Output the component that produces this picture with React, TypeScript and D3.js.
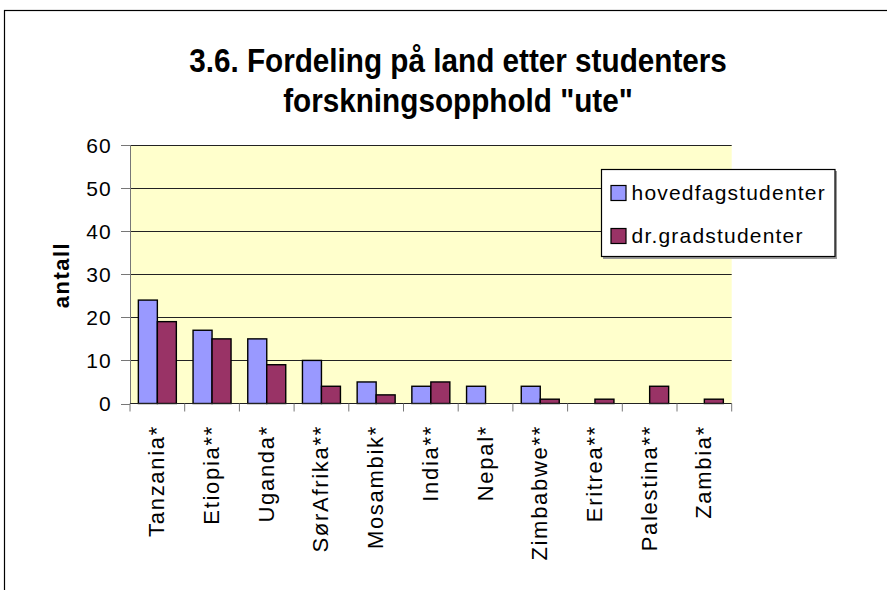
import React from 'react';
import * as d3 from 'd3';

const categories = ['Tanzania*', 'Etiopia**', 'Uganda*', 'SørAfrika**', 'Mosambik*', 'India**', 'Nepal*', 'Zimbabwe**', 'Eritrea**', 'Palestina**', 'Zambia*'];
const hovedfag = [24, 17, 15, 10, 5, 4, 4, 4, 0, 0, 0];
const drgrad = [19, 15, 9, 4, 2, 5, 0, 1, 1, 4, 1];
const seriesNames = ['hovedfagstudenter', 'dr.gradstudenter'];
const seriesColors = ['#9999FF', '#993366'];
const yTicks = [0, 10, 20, 30, 40, 50, 60];
const titleLines = ['3.6. Fordeling på land etter studenters', 'forskningsopphold "ute"'];
const yLabel = 'antall';

const W = 887;
const H = 590;
const plot = { left: 130, right: 731.7, top: 145, bottom: 403.5 };
const font = '"Liberation Sans", Arial, sans-serif';

export default function App() {
  const x = d3.scaleBand<string>().domain(categories).range([plot.left, plot.right]).paddingInner(0).paddingOuter(0);
  const inner = d3.scaleBand<number>().domain([0, 1]).range([0, x.bandwidth()]).paddingInner(0).paddingOuter(0.44);
  const y = d3.scaleLinear().domain([0, 60]).range([plot.bottom, plot.top]);
  const series = [hovedfag, drgrad];

  const boundaries = categories.map((c) => x(c)!).concat([plot.right]);

  return (
    <svg width={W} height={H} style={{ position: 'absolute', left: 0, top: 0, background: '#fff' }} fontFamily={font}>
      <rect x={4.5} y={10.5} width={1000} height={1000} fill="#fff" stroke="#000" strokeWidth={1.2} />
      {titleLines.map((t, i) => (
        <text key={t} transform={`translate(458,${72 + i * 40}) scale(0.9,1)`} textAnchor="middle" fontSize={33} fontWeight="bold">
          {t}
        </text>
      ))}
      <rect x={plot.left} y={plot.top} width={plot.right - plot.left} height={plot.bottom - plot.top} fill="#FFFFCC" />
      {yTicks.map((t) => (
        <g key={t}>
          {t > 0 && <line x1={plot.left} x2={plot.right} y1={Math.round(y(t)) + 0.5} y2={Math.round(y(t)) + 0.5} stroke="#222" strokeWidth={1} />}
          <line x1={121} x2={plot.left} y1={Math.round(y(t)) + 0.5} y2={Math.round(y(t)) + 0.5} stroke="#777" strokeWidth={1} />
          <text x={112} y={y(t) + 7.5} textAnchor="end" fontSize={21} letterSpacing={1.2} fill="#000">{t}</text>
        </g>
      ))}
      {categories.map((c, i) =>
        series.map((s, j) =>
          s[i] > 0 ? (
            <rect
              key={c + j}
              x={x(c)! + inner(j)!}
              y={y(s[i])}
              width={inner.bandwidth()}
              height={plot.bottom - y(s[i])}
              fill={seriesColors[j]}
              stroke="#000"
              strokeWidth={1.4}
            />
          ) : null
        )
      )}
      <line x1={plot.left + 0.5} x2={plot.left + 0.5} y1={plot.top} y2={plot.bottom} stroke="#777" strokeWidth={1} />
      <line x1={plot.left} x2={plot.right} y1={plot.bottom} y2={plot.bottom} stroke="#222" strokeWidth={1} />
      {boundaries.map((b, i) => (
        <line key={i} x1={b} x2={b} y1={plot.bottom} y2={411.5} stroke="#777" strokeWidth={1} />
      ))}
      {categories.map((c) => (
        <text
          key={c}
          transform={`translate(${x(c)! + x.bandwidth() / 2 + 7},${425}) rotate(-90)`}
          textAnchor="end"
          fontSize={22}
          letterSpacing={1.7}
        >
          {c}
        </text>
      ))}
      <text transform={`translate(${69},${275}) rotate(-90)`} textAnchor="middle" fontSize={22} fontWeight="bold" letterSpacing={1.5}>
        {yLabel}
      </text>
      <rect x={603} y={171} width={234} height={88} fill="#999" />
      <rect x={601.5} y={169.5} width={233.5} height={87} fill="#fff" stroke="#000" strokeWidth={1.2} />
      {seriesNames.map((n, i) => (
        <g key={n}>
          <rect x={611} y={185.5 + i * 43} width={15} height={15} fill={seriesColors[i]} stroke="#000" strokeWidth={1.2} />
          <text x={631.5} y={200 + i * 43} fontSize={21} letterSpacing={1.2}>{n}</text>
        </g>
      ))}
    </svg>
  );
}
